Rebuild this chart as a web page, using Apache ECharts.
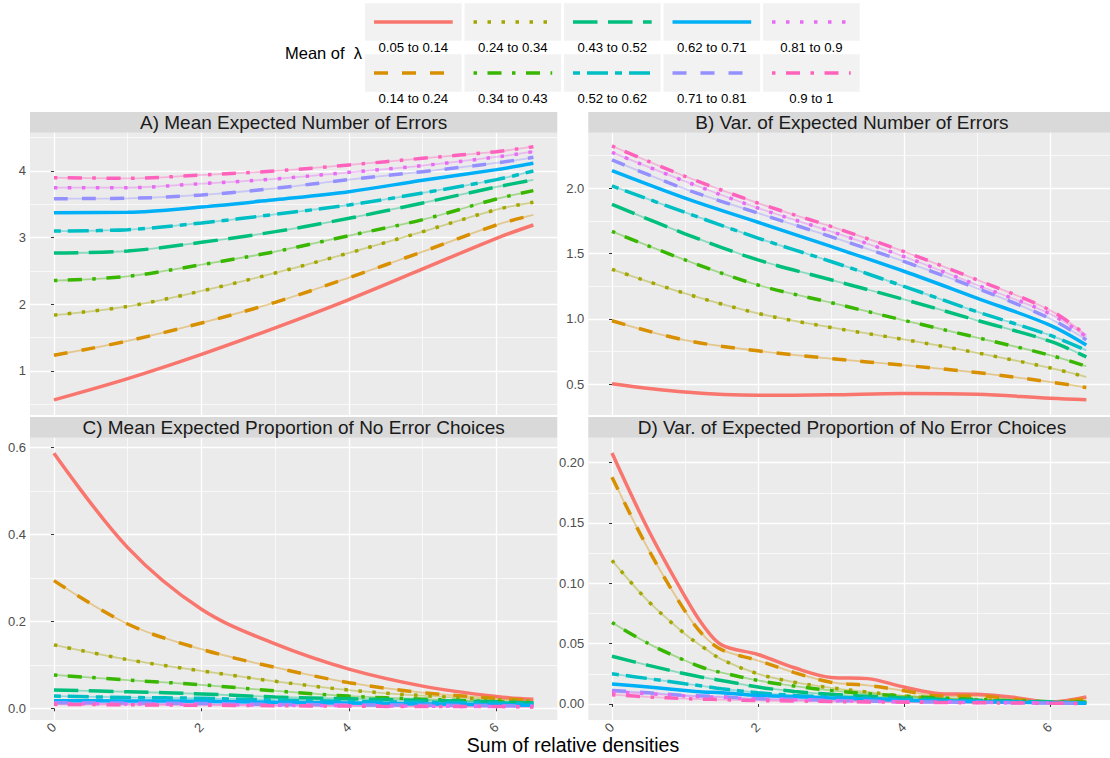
<!DOCTYPE html>
<html><head><meta charset="utf-8">
<script src="https://cdn.jsdelivr.net/npm/echarts@6/dist/echarts.min.js"></script>
<style>html,body{margin:0;padding:0;background:#fff}#c{width:1110px;height:758px}</style>
</head><body><div id="c"></div>
<script>
// ---------- data ----------
const groups = ['0.05 to 0.14','0.14 to 0.24','0.24 to 0.34','0.34 to 0.43','0.43 to 0.52',
                '0.52 to 0.62','0.62 to 0.71','0.71 to 0.81','0.81 to 0.9','0.9 to 1'];
const colors = ['#F8766D','#D89000','#A3A500','#39B600','#00BF7D','#00BFC4','#00B0F6','#9590FF','#E76BF3','#FF62BC'];
const linetypes = ['solid','dashed','dotted','dotdash','longdash','twodash','solid','dashed','dotted','dotdash'];
const panelTitles = ['A) Mean Expected Number of Errors','B) Var. of Expected Number of Errors',
                     'C) Mean Expected Proportion of No Error Choices','D) Var. of Expected Proportion of No Error Choices'];
const xTitle = 'Sum of relative densities';
const legendTitle = 'Mean of  \u03bb';

const xTicks = [0,2,4,6];
const xMinor = [1,3,5];
const yTicksA = [1,2,3,4];            const yMinorA = [0.5,1.5,2.5,3.5,4.5];
const yTicksB = [0.5,1.0,1.5,2.0];    const yMinorB = [0.75,1.25,1.75,2.25];
const yTicksC = [0,0.2,0.4,0.6];      const yMinorC = [0.1,0.3,0.5];
const yTicksD = [0,0.05,0.10,0.15,0.20]; const yMinorD = [0.025,0.075,0.125,0.175];
const yDigits = [0,1,1,2];

const xsABC = [0,1,2,3,4,5,6,6.5];
const xsD = [0,0.5,1,1.25,1.5,2,2.5,3,3.5,4,4.5,5,5.5,6,6.5];

const meanErrors = [
  [0.567,0.886,1.25,1.648,2.072,2.53,2.99,3.19],
  [1.235,1.45,1.72,2.03,2.40,2.79,3.19,3.34],
  [1.838,1.97,2.20,2.47,2.77,3.09,3.42,3.53],
  [2.356,2.42,2.595,2.79,3.03,3.27,3.58,3.705],
  [2.77,2.80,2.93,3.09,3.29,3.52,3.76,3.865],
  [3.098,3.12,3.22,3.35,3.49,3.67,3.87,4.00],
  [3.375,3.38,3.46,3.57,3.69,3.86,4.02,4.115],
  [3.585,3.59,3.64,3.74,3.87,3.99,4.12,4.205],
  [3.75,3.75,3.81,3.88,3.98,4.08,4.21,4.29],
  [3.90,3.89,3.94,4.00,4.09,4.19,4.29,4.364]
];
const varErrors = [
  [0.505,0.441,0.416,0.42,0.43,0.424,0.393,0.382],
  [0.986,0.838,0.756,0.697,0.646,0.59,0.518,0.475],
  [1.38,1.196,1.043,0.935,0.843,0.741,0.626,0.556],
  [1.67,1.452,1.26,1.125,0.99,0.858,0.723,0.638],
  [1.877,1.652,1.452,1.30,1.15,0.99,0.83,0.71],
  [2.018,1.816,1.619,1.44,1.25,1.056,0.876,0.76],
  [2.135,1.925,1.74,1.555,1.365,1.16,0.953,0.80],
  [2.217,1.995,1.81,1.63,1.44,1.235,1.004,0.84],
  [2.275,2.054,1.849,1.67,1.478,1.26,1.04,0.864],
  [2.324,2.092,1.887,1.708,1.516,1.30,1.068,0.876]
];
const meanNoError = [
  [0.587,0.37,0.228,0.148,0.09,0.051,0.027,0.021],
  [0.294,0.194,0.136,0.094,0.059,0.036,0.023,0.018],
  [0.146,0.112,0.086,0.062,0.042,0.029,0.02,0.017],
  [0.0767,0.065,0.054,0.04,0.028,0.021,0.015,0.012],
  [0.042,0.038,0.033,0.026,0.022,0.018,0.015,0.012],
  [0.028,0.025,0.023,0.019,0.016,0.014,0.012,0.011],
  [0.0175,0.017,0.016,0.014,0.012,0.010,0.008,0.007],
  [0.013,0.012,0.011,0.009,0.008,0.007,0.006,0.005],
  [0.011,0.010,0.009,0.007,0.006,0.005,0.004,0.004],
  [0.009,0.008,0.007,0.006,0.005,0.004,0.004,0.003]
];
const varNoError = [
  [0.208,0.144,0.089,0.065,0.049,0.041,0.030,0.022,0.021,0.014,0.0085,0.008,0.0055,0.0016,0.0058],
  [0.188,0.128,0.077,0.057,0.045,0.036,0.026,0.018,0.0154,0.011,0.0066,0.0066,0.004,0.0016,0.0044],
  [0.119,0.085,0.058,0.047,0.037,0.025,0.018,0.0134,0.0099,0.0066,0.0044,0.0036,0.0025,0.0016,0.0016],
  [0.0675,0.05,0.036,0.03,0.026,0.0195,0.0148,0.0112,0.0085,0.0066,0.005,0.0038,0.0027,0.0019,0.0016],
  [0.0395,0.032,0.025,0.022,0.0195,0.014,0.0104,0.008,0.0063,0.005,0.0038,0.003,0.0022,0.0016,0.0011],
  [0.025,0.021,0.0167,0.0148,0.0126,0.0093,0.0071,0.0058,0.0047,0.0036,0.0027,0.0022,0.0016,0.0014,0.0008],
  [0.0165,0.014,0.0112,0.010,0.0093,0.0071,0.006,0.005,0.004,0.003,0.0025,0.0019,0.0014,0.0011,0.0005],
  [0.0112,0.0093,0.0071,0.0066,0.006,0.0044,0.0038,0.003,0.0025,0.0019,0.0016,0.0014,0.0011,0.0008,0.0005],
  [0.0099,0.0085,0.0066,0.006,0.0055,0.004,0.0035,0.0028,0.0022,0.0018,0.0015,0.0012,0.001,0.0008,0.0005],
  [0.0077,0.0058,0.0044,0.004,0.0036,0.0028,0.0025,0.002,0.0017,0.0015,0.0012,0.001,0.0008,0.0006,0.0004]
];

// ---------- layout / style ----------
const FONT = "'Liberation Sans', Arial, Helvetica, sans-serif";
const LW = 3.5;
const dashUnits = {solid:null, dashed:[4,4], dotted:[1,3], dotdash:[1,3,4,3], longdash:[7,3], twodash:[2,2,6,2]};
function dashOf(t){ const d = dashUnits[t]; return d ? d.map(v => v*LW) : 'solid'; }

const PW = 527.3, PH = 282.3;
const panels = [
  {left:30,    top:132.7, ymin:0.34,   ymax:4.574,  ticks:yTicksA, minor:yMinorA, xs:xsABC, data:meanErrors},
  {left:588.3, top:132.7, ymin:0.265,  ymax:2.4255, ticks:yTicksB, minor:yMinorB, xs:xsABC, data:varErrors},
  {left:30,    top:437.7, ymin:-0.027, ymax:0.623,  ticks:yTicksC, minor:yMinorC, xs:xsABC, data:meanNoError},
  {left:588.3, top:437.7, ymin:-0.0133,ymax:0.2207, ticks:yTicksD, minor:yMinorD, xs:xsD,   data:varNoError}
];
const XMIN = -0.325, XMAX = 6.825;

const grid = [], xAxis = [], yAxis = [], series = [], graphic = [];
panels.forEach((p, k) => {
  grid.push({left:p.left, top:p.top, width:PW, height:PH, show:true, backgroundColor:'#EBEBEB', borderWidth:0});
  const bottom = k >= 2;
  xAxis.push({gridIndex:k, type:'value', min:XMIN, max:XMAX, position:'bottom',
    axisLine:{show:false},
    axisTick:{show:bottom, customValues:xTicks, length:3, lineStyle:{color:'#333333', width:1}},
    axisLabel:{show:bottom, customValues:xTicks, rotate:45, margin:5, color:'#4D4D4D', fontSize:13, fontFamily:FONT},
    splitLine:{show:true, lineStyle:{color:'#FFFFFF', width:1.3}}});
  xAxis.push({gridIndex:k, type:'value', min:XMIN, max:XMAX, position:'bottom',
    axisLine:{show:false}, axisTick:{show:false, customValues:xMinor}, axisLabel:{show:false, customValues:xMinor},
    splitLine:{show:true, lineStyle:{color:'#FFFFFF', width:0.65}}});
  yAxis.push({gridIndex:k, type:'value', min:p.ymin, max:p.ymax,
    axisLine:{show:false},
    axisTick:{show:true, customValues:p.ticks, length:3, lineStyle:{color:'#333333', width:1}},
    axisLabel:{customValues:p.ticks, margin:4, color:'#4D4D4D', fontSize:13, fontFamily:FONT,
               formatter: v => Number(v).toFixed(yDigits[k])},
    splitLine:{show:true, lineStyle:{color:'#FFFFFF', width:1.3}}});
  yAxis.push({gridIndex:k, type:'value', min:p.ymin, max:p.ymax,
    axisLine:{show:false}, axisTick:{show:false, customValues:p.minor}, axisLabel:{show:false, customValues:p.minor},
    splitLine:{show:true, lineStyle:{color:'#FFFFFF', width:0.65}}});

  p.data.forEach((vals, g) => {
    const d = vals.map((v, i) => [p.xs[i], v]);
    series.push({type:'line', name:groups[g]+' band', xAxisIndex:2*k, yAxisIndex:2*k, data:d,
      showSymbol:false, symbol:'none', smooth:0.35, silent:true, z:2,
      lineStyle:{color:colors[g], width:1.8, opacity:0.4, type:'solid'}});
    series.push({type:'line', name:groups[g], xAxisIndex:2*k, yAxisIndex:2*k, data:d,
      showSymbol:false, symbol:'none', smooth:0.35, silent:true, z:3,
      lineStyle:{color:colors[g], width:LW, type:dashOf(linetypes[g]), cap:'butt'}});
  });

  // strip
  const stripTop = p.top - 20.6;
  graphic.push({type:'rect', shape:{x:p.left, y:stripTop, width:PW, height:20.6}, style:{fill:'#D9D9D9'}, silent:true});
  graphic.push({type:'text', x:p.left + PW/2, y:stripTop + 10.8, silent:true,
    style:{text:panelTitles[k], fill:'#1A1A1A', fontSize:19, fontFamily:FONT, align:'center', verticalAlign:'middle'}});
});

// legend (ggplot style key boxes)
graphic.push({type:'text', x:285, y:53, silent:true,
  style:{text:legendTitle, fill:'#000', fontSize:16.5, fontFamily:FONT, align:'left', verticalAlign:'middle'}});
groups.forEach((name, g) => {
  const col = Math.floor(g/2), row = g % 2;
  const bx = 365 + col*99.5, by = row ? 54.3 : 3.3;
  graphic.push({type:'rect', shape:{x:bx, y:by, width:96.7, height:37.5}, style:{fill:'#F2F2F2'}, silent:true});
  const dash = dashUnits[linetypes[g]];
  graphic.push({type:'line', shape:{x1:bx+9, y1:by+18.7, x2:bx+87.7, y2:by+18.7}, silent:true,
    style:{stroke:colors[g], lineWidth:LW, lineDash: dash ? dash.map(v=>v*LW) : null, lineCap:'butt'}});
  graphic.push({type:'text', x:bx+48.3, y:by+44.5, silent:true,
    style:{text:name, fill:'#000', fontSize:13.2, fontFamily:FONT, align:'center', verticalAlign:'middle'}});
});
graphic.push({type:'text', x:573, y:745, silent:true,
  style:{text:xTitle, fill:'#000', fontSize:19.5, fontFamily:FONT, align:'center', verticalAlign:'middle'}});

const chart = echarts.init(document.getElementById('c'), null, {renderer:'svg', width:1110, height:758});
chart.setOption({animation:false, backgroundColor:'#FFFFFF', grid, xAxis, yAxis, series, graphic});
</script></body></html>
